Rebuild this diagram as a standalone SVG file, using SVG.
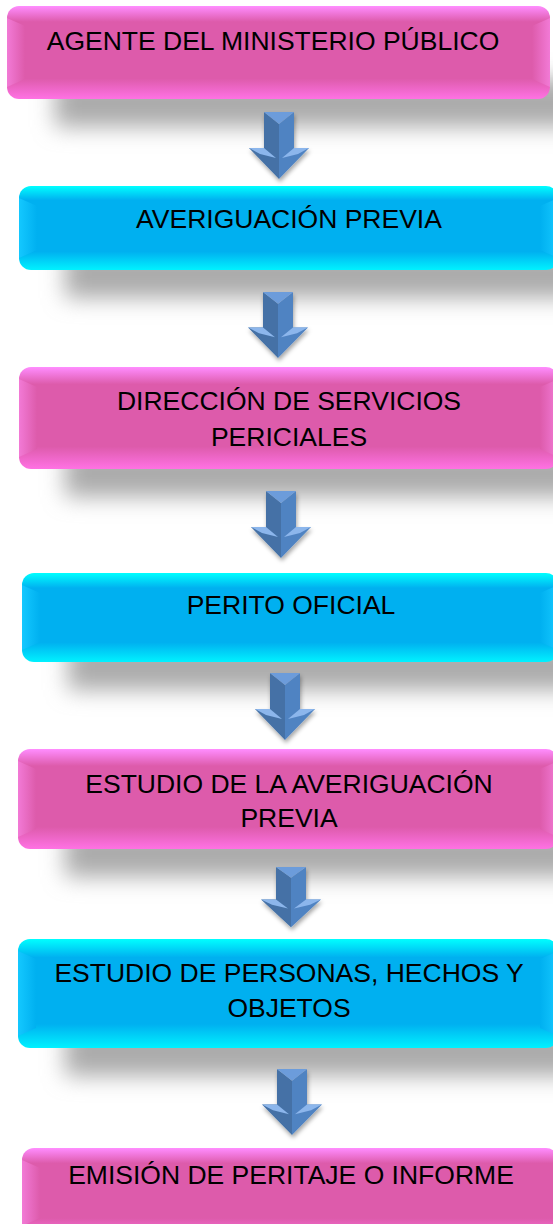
<svg xmlns="http://www.w3.org/2000/svg" xmlns:xlink="http://www.w3.org/1999/xlink" width="553" height="1224" viewBox="0 0 553 1224">
<style>
.lbl{font-family:"Liberation Sans",Arial,sans-serif;font-size:26.5px;fill:#000;text-anchor:middle}
.shadow{fill:#ababab;filter:url(#blur)}
.pink .body{fill:url(#pinkV)}
.cyan .body{fill:url(#cyanV)}
.pink .bl{fill:url(#pinkL)}
.pink .br{fill:url(#pinkR)}
.cyan .bl{fill:url(#cyanL)}
.cyan .br{fill:url(#cyanR)}
.a-left{fill:#4471a6}
.a-right{fill:#5083c2}
.a-top{fill:#6c9cdb}
.a-wing{fill:#8cb6ec}
</style>
<defs>
<filter id="blur" x="-20%" y="-100%" width="140%" height="300%"><feGaussianBlur stdDeviation="11"/></filter>
<filter id="ash" x="-30%" y="-20%" width="160%" height="150%"><feDropShadow dx="1" dy="3" stdDeviation="2" flood-color="#000" flood-opacity="0.35"/></filter>
<linearGradient id="pinkV" x1="0" y1="0" x2="0" y2="1">
<stop offset="0" stop-color="#ff8dff"/><stop offset="0.17" stop-color="#dd5bab"/><stop offset="0.78" stop-color="#dd5bab"/><stop offset="1" stop-color="#ff72e4"/>
</linearGradient>
<linearGradient id="cyanV" x1="0" y1="0" x2="0" y2="1">
<stop offset="0" stop-color="#00ffff"/><stop offset="0.17" stop-color="#00b0f0"/><stop offset="0.78" stop-color="#00b0f0"/><stop offset="1" stop-color="#00f2ff"/>
</linearGradient>
<linearGradient id="pinkL" x1="0" y1="0" x2="1" y2="0">
<stop offset="0" stop-color="#f27ad6"/><stop offset="1" stop-color="#dd5bab"/>
</linearGradient>
<linearGradient id="pinkR" x1="1" y1="0" x2="0" y2="0">
<stop offset="0" stop-color="#f27ad6"/><stop offset="1" stop-color="#dd5bab"/>
</linearGradient>
<linearGradient id="cyanL" x1="0" y1="0" x2="1" y2="0">
<stop offset="0" stop-color="#14c8ff"/><stop offset="1" stop-color="#00b0f0"/>
</linearGradient>
<linearGradient id="cyanR" x1="1" y1="0" x2="0" y2="0">
<stop offset="0" stop-color="#14c8ff"/><stop offset="1" stop-color="#00b0f0"/>
</linearGradient>
<g id="arrow">
<polygon class="a-left" points="-15,0 0,12 0,67 -30,36 -15,36"/>
<polygon class="a-right" points="15,0 0,12 0,67 30,36 15,36"/>
<polygon class="a-top" points="-15,0 15,0 0,12"/>
<polygon class="a-wing" points="-30,36 -15,36 -3,46 -19,42"/>
<polygon class="a-wing" points="30,36 15,36 3,46 19,42"/>
</g>
</defs>
<rect width="553" height="1224" fill="#fff"/>

<g id="n1" class="node pink">
<rect class="shadow" x="55" y="79" width="580" height="48"/>
<rect class="body" x="7" y="6" width="543" height="93" rx="12"/>
<polygon class="bl" points="7,18 25,26 25,79 7,87"/>
<polygon class="br" points="550,18 532,26 532,79 550,87"/>
<text class="lbl" x="273" y="50">AGENTE DEL MINISTERIO PÚBLICO</text>
</g>

<g id="n2" class="node cyan">
<rect class="shadow" x="65" y="250" width="580" height="48"/>
<rect class="body" x="19" y="186" width="539" height="84" rx="12"/>
<polygon class="bl" points="19,198 37,206 37,250 19,258"/>
<polygon class="br" points="558,198 540,206 540,250 558,258"/>
<text class="lbl" x="289" y="228">AVERIGUACIÓN PREVIA</text>
</g>

<g id="n3" class="node pink">
<rect class="shadow" x="65" y="449" width="580" height="48"/>
<rect class="body" x="19" y="367" width="539" height="102" rx="12"/>
<polygon class="bl" points="19,379 37,387 37,449 19,457"/>
<polygon class="br" points="558,379 540,387 540,449 558,457"/>
<text class="lbl" x="289" y="410">DIRECCIÓN DE SERVICIOS</text>
<text class="lbl" x="289" y="446">PERICIALES</text>
</g>

<g id="n4" class="node cyan">
<rect class="shadow" x="68" y="642" width="580" height="48"/>
<rect class="body" x="22" y="573" width="536" height="89" rx="12"/>
<polygon class="bl" points="22,585 40,593 40,642 22,650"/>
<polygon class="br" points="558,585 540,593 540,642 558,650"/>
<text class="lbl" x="291" y="614">PERITO OFICIAL</text>
</g>

<g id="n5" class="node pink">
<rect class="shadow" x="65" y="829" width="580" height="48"/>
<rect class="body" x="18" y="749" width="540" height="100" rx="12"/>
<polygon class="bl" points="18,761 36,769 36,829 18,837"/>
<polygon class="br" points="558,761 540,769 540,829 558,837"/>
<text class="lbl" x="289" y="793">ESTUDIO DE LA AVERIGUACIÓN</text>
<text class="lbl" x="289" y="827">PREVIA</text>
</g>

<g id="n6" class="node cyan">
<rect class="shadow" x="65" y="1028" width="580" height="48"/>
<rect class="body" x="18" y="939" width="540" height="109" rx="12"/>
<polygon class="bl" points="18,951 36,959 36,1028 18,1036"/>
<polygon class="br" points="558,951 540,959 540,1028 558,1036"/>
<text class="lbl" x="289" y="982">ESTUDIO DE PERSONAS, HECHOS Y</text>
<text class="lbl" x="289" y="1017">OBJETOS</text>
</g>

<g id="n7" class="node pink">
<rect class="body" x="22" y="1148" width="536" height="90" rx="12"/>
<polygon class="bl" points="22,1160 40,1168 40,1218 22,1226"/>
<text class="lbl" x="291" y="1184">EMISIÓN DE PERITAJE O INFORME</text>
</g>

<g id="connectors" filter="url(#ash)">
<use xlink:href="#arrow" href="#arrow" transform="translate(279,112)"/>
<use xlink:href="#arrow" href="#arrow" transform="translate(278,292) scale(1,0.985)"/>
<use xlink:href="#arrow" href="#arrow" transform="translate(281,491)"/>
<use xlink:href="#arrow" href="#arrow" transform="translate(285,673)"/>
<use xlink:href="#arrow" href="#arrow" transform="translate(291,867) scale(1,0.9)"/>
<use xlink:href="#arrow" href="#arrow" transform="translate(292,1069) scale(1,0.985)"/>
</g>
</svg>
